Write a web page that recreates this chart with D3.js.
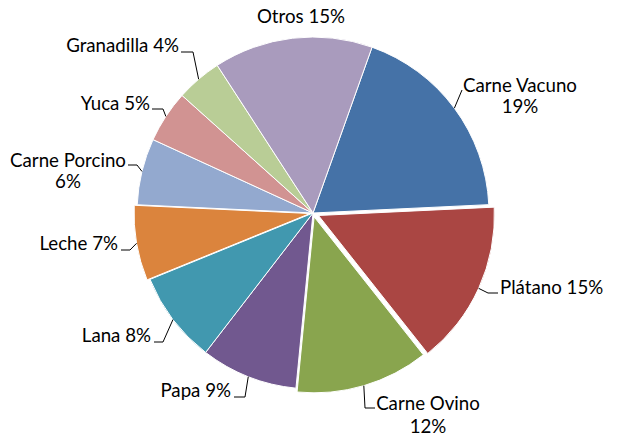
<!DOCTYPE html>
<html><head><meta charset="utf-8">
<script src="https://cdn.jsdelivr.net/npm/d3@7"></script>
<style>body{margin:0;background:#fff}</style>
</head><body>
<svg id="c" width="617" height="436"></svg>
<script>
const categories = ["Carne Vacuno", "Plátano", "Carne Ovino", "Papa", "Lana", "Leche", "Carne Porcino", "Yuca", "Granadilla", "Otros"];
const values = [18.8, 15.1, 12.2, 8.9, 8.4, 6.9, 6.1, 4.8, 4.2, 14.6];
const colors = ["#4572A7", "#AA4643", "#89A54E", "#71588F", "#4198AF", "#DB843D", "#93A9CF", "#D19392", "#B9CD96", "#A99BBD"];
const explode = [0, 6, 4, 0, 0, 3, 0, 0, 0, 0];

// label layout (positions only)
const labelLayout = [
  {two: true, anchor: "middle", x: 520, y: 92, dy: 21, leader: [[462, 90]]},
  {two: false, anchor: "start", x: 500, y: 294, leader: [[488, 293], [498, 293]]},
  {two: true, anchor: "middle", x: 428, y: 410, dy: 23, leader: [[365, 408], [375, 408]]},
  {two: false, anchor: "end", x: 231, y: 397, leader: [[245, 397], [234, 397]]},
  {two: false, anchor: "end", x: 151, y: 342, leader: [[163, 342], [154, 342]]},
  {two: false, anchor: "end", x: 118, y: 250, leader: [[130, 250], [121, 250]]},
  {two: true, anchor: "middle", x: 68, y: 167, dy: 21, leader: [[137, 165], [128, 165]]},
  {two: false, anchor: "end", x: 150, y: 110, leader: [[163, 109], [152, 109]]},
  {two: false, anchor: "end", x: 179, y: 52, leader: [[193, 52], [181, 52]]},
  {two: false, anchor: "middle", x: 301, y: 23, leader: null}
];

const cx = 313, cy = 213, R = 176;
const start = 19.6 * Math.PI / 180;
const svg = d3.select("#c");
const pie = d3.pie().sort(null).value(d => d).startAngle(start).endAngle(start + 2 * Math.PI);
const arc = d3.arc().innerRadius(0).outerRadius(R);
const arcs = pie(values);

const g = svg.append("g").attr("transform", `translate(${cx},${cy})`);
g.selectAll("path").data(arcs).enter().append("path")
  .attr("d", arc)
  .attr("fill", (d, i) => colors[i])
  .attr("stroke", "#fff").attr("stroke-width", 1)
  .attr("transform", (d, i) => {
    const m = (d.startAngle + d.endAngle) / 2;
    return `translate(${Math.sin(m) * explode[i]},${-Math.cos(m) * explode[i]})`;
  });

const font = "Lato, 'Open Sans', sans-serif";
arcs.forEach((d, i) => {
  const L = labelLayout[i];
  const m = (d.startAngle + d.endAngle) / 2;
  const rr = R + explode[i];
  const pct = Math.round(values[i]) + "%";
  if (L.leader) {
    const pts = [[cx + Math.sin(m) * rr, cy - Math.cos(m) * rr]].concat(L.leader);
    svg.append("path").attr("d", d3.line()(pts)).attr("fill", "none").attr("stroke", "#000").attr("stroke-width", 1);
  }
  const t = svg.append("text").attr("font-family", font).attr("font-size", 18.7).attr("fill", "#000").attr("text-anchor", L.anchor);
  if (L.two) {
    t.append("tspan").attr("x", L.x).attr("y", L.y).text(categories[i]);
    t.append("tspan").attr("x", L.x).attr("y", L.y + L.dy).text(pct);
  } else {
    t.attr("x", L.x).attr("y", L.y).text(categories[i] + " " + pct);
  }
});
</script>
</body></html>
